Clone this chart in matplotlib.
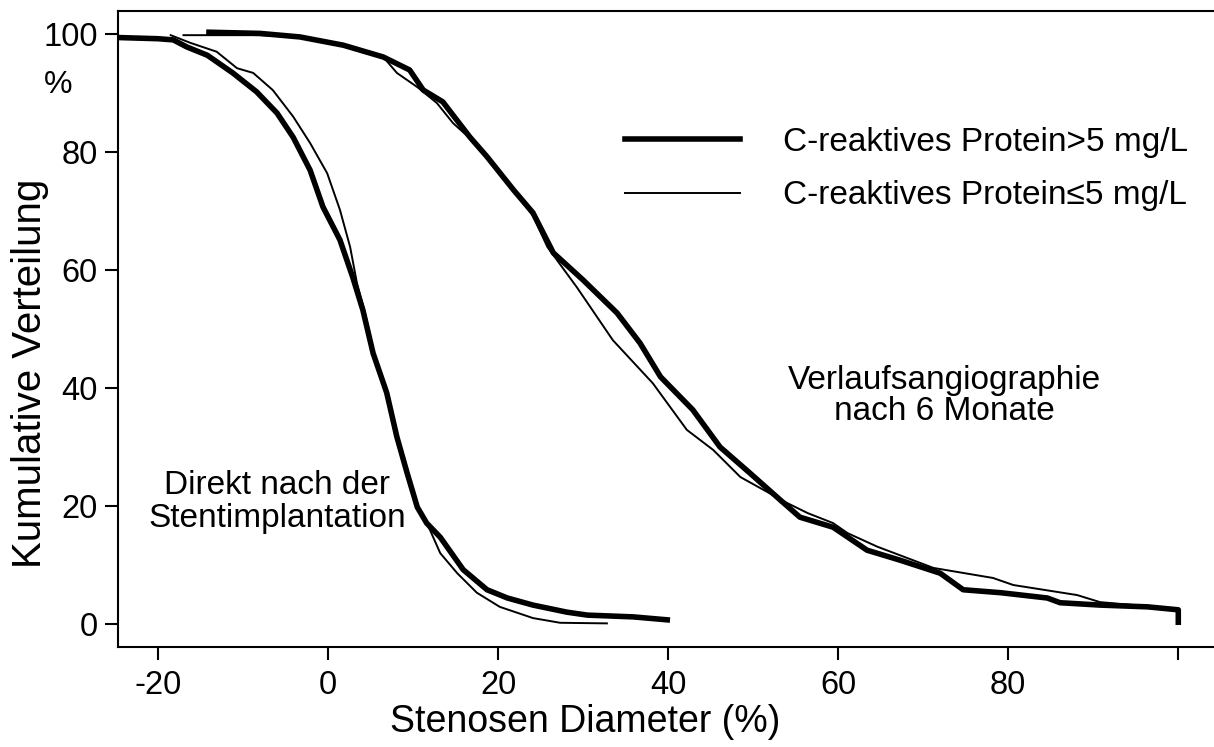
import matplotlib
matplotlib.use("Agg")
import matplotlib.pyplot as plt

plt.rcParams['font.family'] = ['Liberation Sans', 'DejaVu Sans']

# direkt nach Stentimplantation, CRP > 5
post_hi_x = [-24.7, -20, -18.2, -16.6, -14.2, -11.2, -8.4, -6.0, -4.1, -2.1, -0.6, 1.4, 2.9, 4.1,
             5.3, 6.9, 8.1, 9.3, 10.5, 11.6, 13.2, 15.9, 18.7, 21.1, 24.1, 28.1, 30.5, 35.9, 39.9]
post_hi_y = [99.4, 99.2, 99.0, 97.8, 96.4, 93.4, 90.2, 86.6, 82.5, 76.9, 70.7, 65.1, 58.8, 53.2,
             45.9, 39.2, 31.7, 25.6, 19.8, 17.1, 14.7, 9.2, 5.8, 4.4, 3.2, 2.0, 1.5, 1.2, 0.7]
# direkt nach Stentimplantation, CRP <= 5
post_lo_x = [-18.5, -16.2, -13.1, -10.7, -8.8, -6.5, -4.1, -2.1, -0.1, 1.4, 2.6, 3.4, 4.3, 5.4,
             6.9, 8.1, 9.3, 10.5, 12.0, 13.2, 15.2, 17.5, 20.2, 24.1, 27.3, 32.8]
post_lo_y = [99.8, 98.5, 97.0, 94.2, 93.4, 90.5, 86.0, 81.5, 76.4, 70.2, 63.9, 57.8, 53.0, 46.0,
             39.3, 31.8, 25.7, 20.0, 15.9, 12.0, 8.6, 5.3, 2.9, 1.0, 0.2, 0.1]
# Verlaufsangiographie, CRP > 5
fu_hi_x = [-14, -8, -3.3, 1.8, 6.5, 9.6, 11.2, 13.5, 16.7, 18.7, 21.8, 24.1, 26.5, 30, 34, 36.7,
           39.1, 42.9, 46.1, 49.6, 53.2, 55.5, 59.4, 63.4, 67.3, 72, 74.7, 79.1, 84.6, 86.1,
           90.8, 96.4, 100, 100]
fu_hi_y = [100.3, 100.1, 99.5, 98.1, 96.1, 93.9, 90.5, 88.5, 82.5, 79.2, 73.6, 69.7, 62.9, 58.3,
           52.7, 47.6, 41.9, 36.3, 30.0, 25.6, 21.0, 18.1, 16.4, 12.5, 10.8, 8.6, 5.8, 5.3, 4.4,
           3.6, 3.2, 2.9, 2.4, 0.3]
# Verlaufsangiographie, CRP <= 5
fu_lo_x = [-17, -8, -3.3, 1.8, 6.5, 8.1, 10.5, 12.8, 14.7, 16.7, 18.7, 21.8, 24.1, 25.8, 29.3,
           33.5, 38.2, 42.2, 45.3, 48.5, 54.0, 56.4, 59.4, 61.1, 64.6, 71.2, 78.2, 80.6, 88.1,
           90.8, 96.4, 100]
fu_lo_y = [99.8, 99.8, 99.5, 98.1, 96.1, 93.4, 91.0, 88.3, 84.9, 82.3, 79.0, 73.4, 69.2, 63.9,
           57.0, 48.1, 40.8, 32.9, 29.5, 24.9, 20.5, 18.8, 17.1, 15.4, 13.1, 9.5, 7.8, 6.6, 4.9,
           3.7, 3.0, 2.5]

xticks = [-20, 0, 20, 40, 60, 80, 100]
xticklabels = ['-20', '0', '20', '40', '60', '80', '']
yticks = [0, 20, 40, 60, 80, 100]

fig = plt.figure(figsize=(12.14, 7.47), dpi=100)
ax = fig.add_axes([0.0972, 0.1339, 0.9028, 0.8514])

lw_hi, lw_lo = 4.0, 1.4
ax.plot(post_hi_x, post_hi_y, color='black', lw=lw_hi, label='C-reaktives Protein>5 mg/L')
ax.plot(post_lo_x, post_lo_y, color='black', lw=lw_lo, label='C-reaktives Protein\u22645 mg/L')
ax.plot(fu_hi_x, fu_hi_y, color='black', lw=lw_hi)
ax.plot(fu_lo_x, fu_lo_y, color='black', lw=lw_lo)

ax.set_xlim(-24.7, 104.2)
ax.set_ylim(-3.9, 103.9)
ax.set_xticks(xticks)
ax.set_xticklabels(xticklabels)
ax.set_yticks(yticks)
ax.tick_params(labelsize=23.5, length=9.5, width=1.5, direction='out', pad=5)
ax.tick_params(axis='x', pad=7)
ax.spines['right'].set_visible(False)
for s in ['left', 'bottom', 'top']:
    ax.spines[s].set_linewidth(1.5)

ax.set_xlabel('Stenosen Diameter (%)', fontsize=27)
ax.set_ylabel('Kumulative Verteilung', fontsize=29)
ax.xaxis.set_label_coords(0.426, -0.118)
ax.yaxis.set_label_coords(-0.080, 0.43)
ax.xaxis.label.set_va('center')
ax.yaxis.label.set_va('center')
fig.text(0.048, 0.886, '%', fontsize=23, ha='center', va='center')

ax.text(-6, 20.7, 'Direkt nach der\nStentimplantation', fontsize=24, ha='center', va='center',
        linespacing=1.1)
ax.text(72.5, 38.6, 'Verlaufsangiographie\nnach 6 Monate', fontsize=24, ha='center', va='center',
        linespacing=1.0)

ax.legend(loc='upper left', bbox_to_anchor=(0.4626, 0.818), frameon=False, fontsize=24,
          handlelength=3.45, handletextpad=1.3, labelspacing=0.68, borderaxespad=0,
          borderpad=0)

fig.savefig('out.png', dpi=100)
